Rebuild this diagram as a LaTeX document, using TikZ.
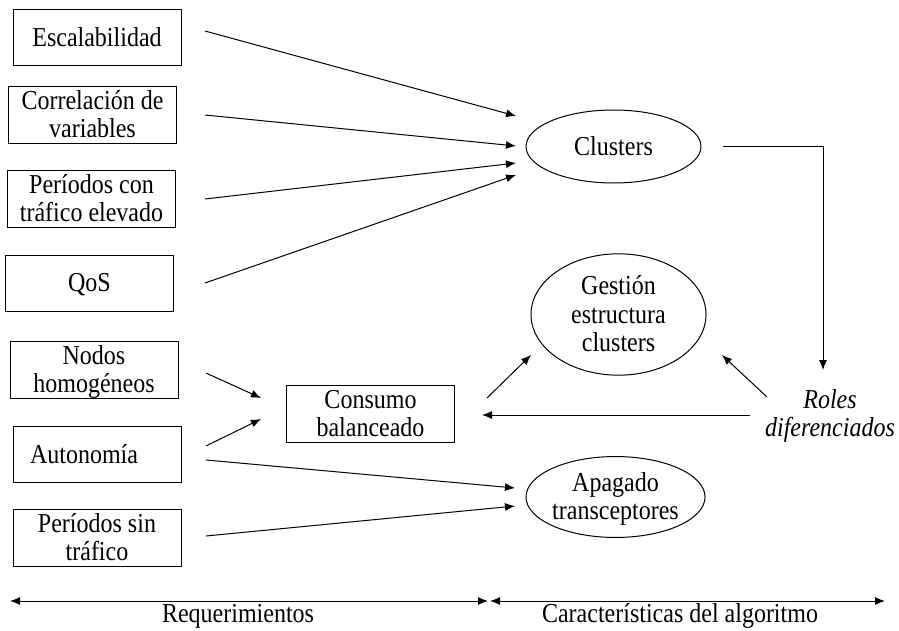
\documentclass[tikz,border=0pt]{standalone}
\usepackage{fontspec}
\usepackage{graphicx}
\setmainfont{Liberation Serif}
\usetikzlibrary{shapes.geometric,arrows.meta}
\newcommand\txt[1]{\raisebox{-1.4pt}[\height][\depth]{\scalebox{1}[1.14]{\def\arraystretch{1.02}\begin{tabular}{@{}c@{}}#1\end{tabular}}}}
\begin{document}
\begin{tikzpicture}[x=0.5pt,y=-0.5pt,
  font=\fontsize{12}{12.3}\selectfont,
  every path/.style={line width=0.5pt},
  box/.style={draw,line width=0.5pt,minimum width=84pt,minimum height=28pt,inner sep=0pt,align=center},
  oval/.style={draw,ellipse,line width=0.5pt,minimum width=87.5pt,inner sep=0pt,align=center},
  arr/.style={-{Latex[length=5pt,width=4pt]},line width=0.5pt},
  dbl/.style={{Latex[length=5pt,width=4pt]}-{Latex[length=5pt,width=4pt]},line width=0.5pt}]
\useasboundingbox (0,0) rectangle (899,631);
% requirement boxes
\node[box] (esc) at (97,37.5) {\txt{Escalabilidad}};
\node[box] (cor) at (92.5,115) {\txt{Correlación de\\variables}};
\node[box] (pce) at (91.5,199) {\txt{Períodos con\\tráfico elevado}};
\node[box] (qos) at (89.5,283) {\txt{QoS}};
\node[box] (nod) at (94,370) {\txt{Nodos\\homogéneos}};
\node[box] (aut) at (97,454.5) {\hspace*{-13pt}\txt{Autonomía}};
\node[box] (pst) at (97,538) {\txt{Períodos sin\\tráfico}};
\node[box] (con) at (370.5,414) {\txt{Consumo\\balanceado}};
% ellipses
\node[oval,minimum height=36.5pt] (clu) at (613.5,146.5) {\txt{Clusters}};
\node[oval,minimum height=47.5pt] (ges) at (618.5,314.5) {\txt{Gestión\\estructura\\clusters}};
\node[oval,minimum height=31pt] (apa) at (615.5,497) {\txt{Apagado\\transceptores}};
\node[inner sep=0pt,font=\fontsize{12}{12.3}\selectfont\itshape] (rol) at (830,414) {\txt{Roles\\diferenciados}};
% connector end points
\coordinate (e1) at (205,31);
\coordinate (c1) at (205,115);
\coordinate (p1) at (205,199);
\coordinate (q1) at (205,283);
\coordinate (n1) at (206,373);
\coordinate (a1) at (206,446);
\coordinate (a2) at (206,460);
\coordinate (s1) at (206,536);
\coordinate (cl1) at (516,116);
\coordinate (cl2) at (516,146);
\coordinate (cl3) at (516,163);
\coordinate (cl4) at (516,175);
\coordinate (cn1) at (261,398);
\coordinate (cn2) at (261,419);
\coordinate (ap1) at (515,488);
\coordinate (ap2) at (515,506);
\coordinate (cr) at (723,146);
\coordinate (rt) at (823,370);
\coordinate (cg1) at (487,398);
\coordinate (cg2) at (531,355);
\coordinate (rg1) at (767,397);
\coordinate (rg2) at (722,355);
\coordinate (rc1) at (750,415);
\coordinate (rc2) at (482,415);
% connectors
\draw[arr] (e1) -- (cl1);
\draw[arr] (c1) -- (cl2);
\draw[arr] (p1) -- (cl3);
\draw[arr] (q1) -- (cl4);
\draw[arr] (n1) -- (cn1);
\draw[arr] (a1) -- (cn2);
\draw[arr] (a2) -- (ap1);
\draw[arr] (s1) -- (ap2);
\draw[arr] (cr) -| (rt);
\draw[arr] (cg1) -- (cg2);
\draw[arr] (rg1) -- (rg2);
\draw[arr] (rc1) -- (rc2);
% bottom
\coordinate (b1) at (10,601);
\coordinate (b2) at (488,601);
\coordinate (b3) at (490,601);
\coordinate (b4) at (885,601);
\draw[dbl] (b1) -- (b2);
\draw[dbl] (b3) -- (b4);
\node[inner sep=0pt] (req) at (238,614) {\txt{Requerimientos}};
\node[inner sep=0pt] (car) at (680,614) {\txt{Características del algoritmo}};
\end{tikzpicture}
\end{document}
